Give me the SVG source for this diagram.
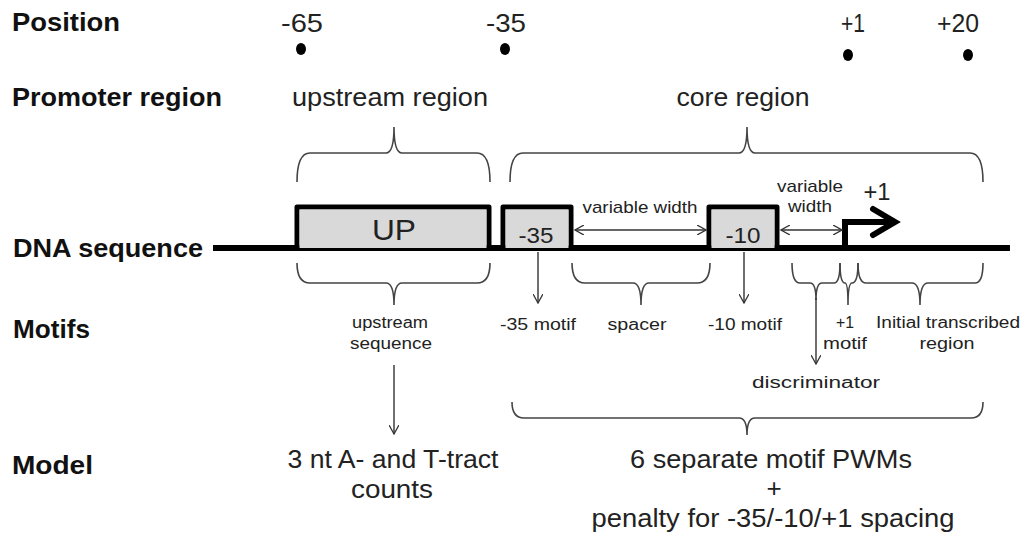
<svg xmlns="http://www.w3.org/2000/svg" width="1021" height="539" viewBox="0 0 1021 539">
<style>
.lbl{font-family:"Liberation Sans",Arial,sans-serif;font-weight:bold;font-size:25px;fill:#111}
.t{font-family:"Liberation Sans",Arial,sans-serif;fill:#222;text-anchor:middle}
.br{fill:none;stroke:#444;stroke-width:1.6}
.ar{fill:none;stroke:#333;stroke-width:1.4;marker-end:url(#v)}
.box{fill:#d9d9d9;stroke:#000;stroke-width:5;stroke-linejoin:round}
</style>
<defs>
<marker id="v" viewBox="0 0 10 10" refX="9" refY="5" markerWidth="10" markerHeight="10" markerUnits="userSpaceOnUse" orient="auto-start-reverse">
<path d="M0,0 L9,5 L0,10" fill="none" stroke="#333" stroke-width="1.3"/>
</marker>
</defs>

<g id="labels">
<text class="lbl" x="12" y="31" textLength="108" lengthAdjust="spacingAndGlyphs">Position</text>
<text class="lbl" x="12" y="106" textLength="210" lengthAdjust="spacingAndGlyphs">Promoter region</text>
<text class="lbl" x="13" y="257" textLength="190" lengthAdjust="spacingAndGlyphs">DNA sequence</text>
<text class="lbl" x="13" y="338" textLength="77" lengthAdjust="spacingAndGlyphs">Motifs</text>
<text class="lbl" x="12" y="474" textLength="81" lengthAdjust="spacingAndGlyphs">Model</text>
</g>

<g id="positions">
<text class="t" x="302" y="32" font-size="25" textLength="42" lengthAdjust="spacingAndGlyphs">-65</text>
<text class="t" x="506" y="32" font-size="25" textLength="40" lengthAdjust="spacingAndGlyphs">-35</text>
<text class="t" x="853" y="32" font-size="25" textLength="24" lengthAdjust="spacingAndGlyphs">+1</text>
<text class="t" x="958" y="32" font-size="25" textLength="42" lengthAdjust="spacingAndGlyphs">+20</text>
<ellipse cx="301" cy="49" rx="5" ry="6" fill="#000"/>
<ellipse cx="505" cy="49" rx="5" ry="6" fill="#000"/>
<ellipse cx="848" cy="55" rx="5" ry="6" fill="#000"/>
<ellipse cx="968" cy="55" rx="5" ry="6" fill="#000"/>
</g>

<g id="regions">
<text class="t" x="390" y="106" font-size="25" textLength="196" lengthAdjust="spacingAndGlyphs">upstream region</text>
<text class="t" x="743" y="106" font-size="25" textLength="133" lengthAdjust="spacingAndGlyphs">core region</text>
<path class="br" d="M297,182 Q297,153 310,153 L386,153 Q394,153 394,127 Q394,153 402,153 L477,153 Q490,153 490,182"/>
<path class="br" d="M510,182 Q510,153 523,153 L739,153 Q747,153 747,127 Q747,153 755,153 L970,153 Q983,153 983,182"/>
</g>

<g id="dna">
<line x1="213" y1="248" x2="1010" y2="248" stroke="#000" stroke-width="6"/>
</g>

<g id="up-box">
<path class="box" d="M297,248 L297,207 L489,207 L489,248"/>
<rect x="299.5" y="209.5" width="187" height="36" fill="#d9d9d9"/>
<text class="t" x="394" y="240" font-size="30" textLength="44" lengthAdjust="spacingAndGlyphs">UP</text>
</g>

<g id="box-35">
<path class="box" d="M503,248 L503,207 L571,207 L571,248"/>
<rect x="505.5" y="209.5" width="63" height="36" fill="#d9d9d9"/>
<text class="t" x="536" y="243" font-size="22" textLength="35" lengthAdjust="spacingAndGlyphs">-35</text>
</g>

<g id="box-10">
<path class="box" d="M709,248 L709,207 L777,207 L777,248"/>
<rect x="711.5" y="209.5" width="63" height="36" fill="#d9d9d9"/>
<text class="t" x="743" y="243" font-size="22" textLength="35" lengthAdjust="spacingAndGlyphs">-10</text>
</g>

<g id="tss">
<path d="M845,250 L845,222 L890,222" fill="none" stroke="#000" stroke-width="6"/>
<path d="M873,209 L895,222 L873,235" fill="none" stroke="#000" stroke-width="6" stroke-linecap="round"/>
<text class="t" x="877" y="200" font-size="24" textLength="27" lengthAdjust="spacingAndGlyphs">+1</text>
</g>

<g id="connectors">
<line class="ar" x1="575" y1="230" x2="706" y2="230" marker-start="url(#v)"/>
<line class="ar" x1="781" y1="230" x2="842" y2="230" marker-start="url(#v)"/>
<line class="ar" x1="538" y1="252" x2="538" y2="303"/>
<line class="ar" x1="744" y1="252" x2="744" y2="303"/>
<line class="ar" x1="394" y1="365" x2="394" y2="434"/>
<path class="br" d="M297,263 Q297,283 310,283 L386,283 Q394,283 394,305 Q394,283 402,283 L477,283 Q490,283 490,263"/>
<path class="br" d="M572,263 Q572,283 585,283 L633,283 Q641,283 641,305 Q641,283 649,283 L697,283 Q710,283 710,263"/>
<path class="br" d="M792,263 Q792,283 800,283 L810,283 Q816,283 816,300 Q816,283 822,283 L834,283 Q840,283 840,263"/>
<line class="ar" x1="816" y1="298" x2="816" y2="364"/>
<path class="br" d="M840,263 Q840,283 845,283 Q848,283 848,305 Q848,283 852,283 Q858,283 858,263"/>
<path class="br" d="M858,263 Q858,283 866,283 L912,283 Q920,283 920,305 Q920,283 928,283 L975,283 Q983,283 983,263"/>
<path class="br" d="M512,402 Q512,418 524,418 L739,418 Q747,418 747,435 Q747,418 755,418 L971,418 Q983,418 983,402"/>
</g>

<g id="texts">
<text class="t" x="640" y="213" font-size="17" textLength="115" lengthAdjust="spacingAndGlyphs">variable width</text>
<text class="t" x="810" y="192" font-size="17" textLength="66" lengthAdjust="spacingAndGlyphs">variable</text>
<text class="t" x="810" y="212" font-size="17" textLength="44" lengthAdjust="spacingAndGlyphs">width</text>
<text class="t" x="390" y="328" font-size="16" textLength="76" lengthAdjust="spacingAndGlyphs">upstream</text>
<text class="t" x="391" y="349" font-size="16" textLength="82" lengthAdjust="spacingAndGlyphs">sequence</text>
<text class="t" x="538" y="330" font-size="16" textLength="76" lengthAdjust="spacingAndGlyphs">-35 motif</text>
<text class="t" x="637" y="330" font-size="16" textLength="59" lengthAdjust="spacingAndGlyphs">spacer</text>
<text class="t" x="745" y="330" font-size="16" textLength="74" lengthAdjust="spacingAndGlyphs">-10 motif</text>
<text class="t" x="845" y="328" font-size="17" textLength="18" lengthAdjust="spacingAndGlyphs">+1</text>
<text class="t" x="845" y="349" font-size="16" textLength="44" lengthAdjust="spacingAndGlyphs">motif</text>
<text class="t" x="948" y="328" font-size="16" textLength="144" lengthAdjust="spacingAndGlyphs">Initial transcribed</text>
<text class="t" x="947" y="349" font-size="16" textLength="55" lengthAdjust="spacingAndGlyphs">region</text>
<text class="t" x="816" y="388" font-size="16" textLength="128" lengthAdjust="spacingAndGlyphs">discriminator</text>
<text class="t" x="393" y="468" font-size="26" textLength="211" lengthAdjust="spacingAndGlyphs">3 nt A- and T-tract</text>
<text class="t" x="392" y="498" font-size="26" textLength="82" lengthAdjust="spacingAndGlyphs">counts</text>
<text class="t" x="771" y="468" font-size="26" textLength="282" lengthAdjust="spacingAndGlyphs">6 separate motif PWMs</text>
<text class="t" x="774" y="497" font-size="26">+</text>
<text class="t" x="773" y="527" font-size="26" textLength="363" lengthAdjust="spacingAndGlyphs">penalty for -35/-10/+1 spacing</text>
</g>
</svg>
